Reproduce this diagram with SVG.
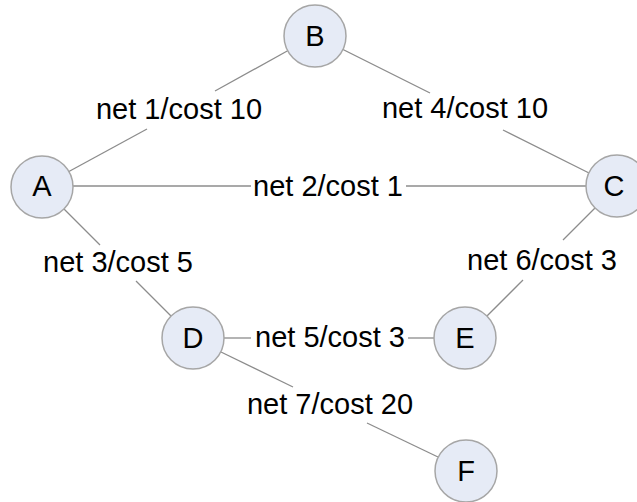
<svg xmlns="http://www.w3.org/2000/svg" width="637" height="502" viewBox="0 0 637 502">
  <style>
    .node circle { fill: #e6ebf6; stroke: #a6a6a6; stroke-width: 1.5; }
    .node text { font-family: "Liberation Sans", Arial, sans-serif; font-size: 29px; fill: #000; text-anchor: middle; }
    .edges line { stroke: #8c8c8c; stroke-width: 1.3; }
    .label { font-family: "Liberation Sans", Arial, sans-serif; font-size: 29px; fill: #000; text-anchor: middle; }
  </style>
  <rect width="637" height="502" fill="#ffffff"/>

  <!-- connectors, split where the cost labels sit -->
  <g id="edges" class="edges">
    <!-- A - B -->
    <line x1="68" y1="172" x2="147" y2="129"/>
    <line x1="215" y1="91" x2="289" y2="50"/>
    <!-- B - C -->
    <line x1="342" y1="49" x2="430" y2="93"/>
    <line x1="503" y1="130" x2="589" y2="173"/>
    <!-- A - C -->
    <line x1="73" y1="186" x2="251" y2="186"/>
    <line x1="406" y1="186" x2="586" y2="186"/>
    <!-- A - D -->
    <line x1="64" y1="209" x2="100" y2="245"/>
    <line x1="136" y1="281" x2="171" y2="316"/>
    <!-- C - E -->
    <line x1="595" y1="208" x2="563" y2="240"/>
    <line x1="523" y1="280" x2="487" y2="316"/>
    <!-- D - E -->
    <line x1="224" y1="338" x2="251" y2="338"/>
    <line x1="408" y1="338" x2="434" y2="338"/>
    <!-- D - F -->
    <line x1="221" y1="352" x2="293" y2="387"/>
    <line x1="367" y1="423" x2="438" y2="457"/>

    <text class="label" x="179" y="119">net 1/cost 10</text>
    <text class="label" x="465" y="118">net 4/cost 10</text>
    <text class="label" x="328" y="196">net 2/cost 1</text>
    <text class="label" x="118" y="272">net 3/cost 5</text>
    <text class="label" x="542" y="270">net 6/cost 3</text>
    <text class="label" x="330" y="347">net 5/cost 3</text>
    <text class="label" x="330" y="414">net 7/cost 20</text>
  </g>

  <g id="node-B" class="node">
    <circle cx="315" cy="36" r="31"/>
    <text x="315" y="46">B</text>
  </g>
  <g id="node-A" class="node">
    <circle cx="42" cy="187" r="31"/>
    <text x="42" y="196">A</text>
  </g>
  <g id="node-C" class="node">
    <circle cx="617" cy="186" r="31"/>
    <text x="614" y="196">C</text>
  </g>
  <g id="node-D" class="node">
    <circle cx="193" cy="338" r="31"/>
    <text x="193" y="348">D</text>
  </g>
  <g id="node-E" class="node">
    <circle cx="465" cy="338" r="31"/>
    <text x="465" y="348">E</text>
  </g>
  <g id="node-F" class="node">
    <circle cx="466" cy="471" r="31"/>
    <text x="466" y="481">F</text>
  </g>
</svg>
